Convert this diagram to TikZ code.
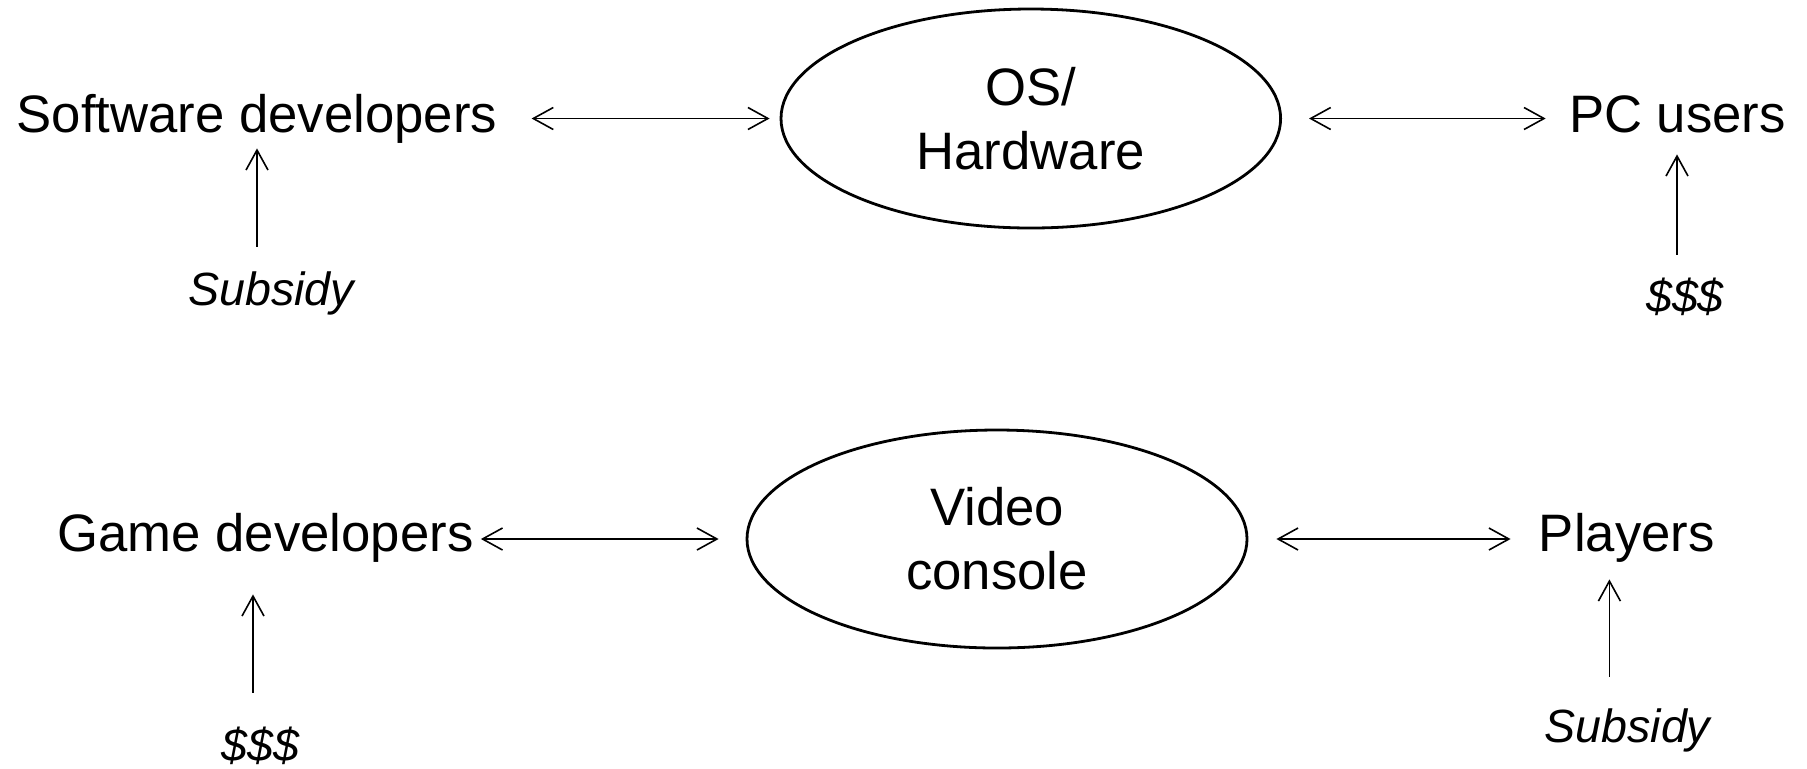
\documentclass[tikz,border=0pt]{standalone}
\usepackage{fontspec}
\setmainfont{Liberation Sans}
\usetikzlibrary{arrows.meta,calc,shapes.geometric}
\tikzset{
  lbl/.style={font=\fontsize{26.35}{32}\selectfont, anchor=base, inner sep=0pt, text height=19.2pt, text depth=5.5pt},
  ital/.style={font=\fontsize{23.3}{28}\selectfont\itshape, anchor=base, inner sep=0pt, text height=17pt, text depth=4.9pt},
  oval/.style={ellipse, draw, line width=1.4pt, inner sep=0pt, align=center, font=\fontsize{26.35}{32}\selectfont},
  arr/.style={line width=0.8pt, -{Straight Barb[length=10pt,width=11pt]}},
  darr/.style={line width=0.8pt, {Straight Barb[length=10pt,width=11pt]}-{Straight Barb[length=10pt,width=11pt]}}
}
\begin{document}
\begin{tikzpicture}[x=0.5pt,y=-0.5pt]
\useasboundingbox (0,0) rectangle (1807,768);
% top row
\node[lbl] (sw) at (257,132) {Software developers};
\node[oval, minimum width=249.8pt, minimum height=109.5pt] (os) at (1030.8,118.5) {OS/\\Hardware};
\node[lbl] (pc) at (1677.4,132) {PC users};
\node[ital] (sub1) at (271,305) {Subsidy};
\node[ital] (dol1) at (1685,312) {\$\$\$};
% bottom row
\node[lbl] (gd) at (265.5,551) {Game developers};
\node[oval, minimum width=250pt, minimum height=109pt] (vc) at (997,539) {Video\\console};
\node[lbl] (pl) at (1626.8,551) {Players};
\node[ital] (dol2) at (260.5,761) {\$\$\$};
\node[ital] (sub2) at (1627.4,742) {Subsidy};
% horizontal connectors
\draw[darr] ($(sw.east |- os.west)+(34,0)$) -- ($(os.west)+(-10,0)$);
\draw[darr] ($(os.east)+(27,0)$) -- ($(pc.west |- os.east)+(-23,0)$);
\draw[darr] ($(gd.east |- vc.west)+(7,0)$) -- ($(vc.west)+(-27,0)$);
\draw[darr] ($(vc.east)+(28,0)$) -- ($(pl.west |- vc.east)+(-28,0)$);
% vertical connectors
\draw[arr] ($(sub1.north)+(-14,-24)$) -- ($(sw.south -| sub1.north)+(-14,5)$);
\draw[arr] ($(dol1.north)+(-8,-23)$) -- ($(pc.south -| dol1.north)+(-8,11)$);
\draw[arr] ($(dol2.north)+(-7.5,-34)$) -- ($(gd.south -| dol2.north)+(-7.5,32)$);
\draw[arr] ($(sub2.north)+(-18,-31)$) -- ($(pl.south -| sub2.north)+(-18,17)$);
\end{tikzpicture}
\end{document}
